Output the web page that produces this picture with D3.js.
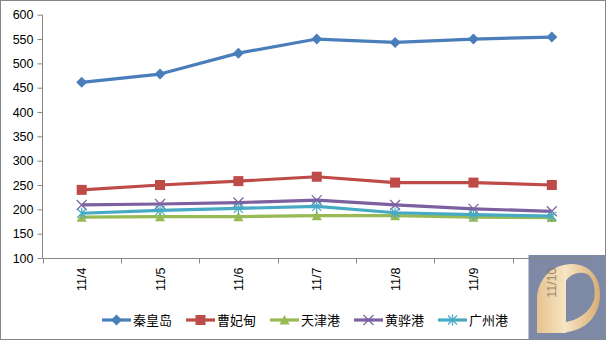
<!DOCTYPE html>
<html><head><meta charset="utf-8">
<script src="https://cdn.jsdelivr.net/npm/d3@7"></script>
<style>body{margin:0;background:#fff}svg{display:block}</style>
</head><body>
<svg id="c" width="607" height="341"></svg>
<script>
const categories = ["11/4","11/5","11/6","11/7","11/8","11/9","11/10"];
const seriesNames = ["秦皇岛","曹妃甸","天津港","黄骅港","广州港"];
const qinhuangdao = [461, 478, 521, 550, 543, 550, 554];
const caofeidian  = [240, 250, 258, 267, 255, 255, 250];
const tianjin     = [184, 185, 185, 187, 187, 184, 183];
const huanghua    = [209, 211, 214, 219, 209, 201, 196];
const guangzhou   = [192, 198, 202, 206, 193, 189, 186];
const yTicks = [100,150,200,250,300,350,400,450,500,550,600];

const seriesValues = [qinhuangdao, caofeidian, tianjin, huanghua, guangzhou];
const colors = ["#4A7EBB","#BE4B48","#98B954","#7D60A0","#46AAC5"];
const markers = ["diamond","square","triangle","x","star"];

const svg = d3.select("#c");
svg.append("rect").attr("x",0.5).attr("y",0.5).attr("width",605).attr("height",339)
  .attr("fill","#fff").attr("stroke","#868686");

const x = d3.scaleBand().domain(categories).range([42.5, 591]);
const y = d3.scaleLinear().domain([100,600]).range([258, 14.7]);

// Watermark (behind the chart)
const wm = svg.append("g");
wm.append("rect").attr("x",528.5).attr("y",255).attr("width",77).attr("height",84.5).attr("fill","#7E89A5");
const grad = svg.append("defs").append("linearGradient").attr("id","g1").attr("x1","0").attr("x2","1");
grad.append("stop").attr("offset","0").attr("stop-color","#E6C391");
grad.append("stop").attr("offset","0.45").attr("stop-color","#F7E4C2");
grad.append("stop").attr("offset","1").attr("stop-color","#D9AD74");
wm.append("path").attr("fill","url(#g1)").attr("fill-rule","evenodd")
  .attr("d","M537,333 L537,300 C537,278 553,264 572,264 C590,264 600,278 600,294 C600,314 588,329 568,332 L565,333 Z M566,322 L566,281 C570,274 580,271 587,274 C594,278 596,290 594,300 C590,312 578,320 566,322 Z");

// Y axis
const ya = svg.append("g").attr("transform","translate(42.5,0)")
  .call(d3.axisLeft(y).tickValues(yTicks).tickSize(5).tickPadding(4).tickFormat(d3.format("d")));
ya.select(".domain").attr("stroke","#868686").attr("d","M0,"+y(600)+"V"+y(100));
ya.selectAll(".tick line").attr("stroke","#868686");
ya.selectAll("text").attr("fill","#000").style("font-family","Liberation Sans, Arial").style("font-size","12.5px");

// X axis
const xa = svg.append("g").attr("transform","translate(0,258.5)");
xa.append("line").attr("x1",42.5).attr("x2",591).attr("stroke","#868686");
const bounds = categories.map(c=>x(c)).concat([x.range()[1]]);
xa.selectAll("line.t").data(bounds).join("line").attr("class","t")
  .attr("x1",d=>Math.round(d)+0.5).attr("x2",d=>Math.round(d)+0.5).attr("y1",0).attr("y2",5).attr("stroke","#868686");
xa.selectAll("text").data(categories).join("text")
  .attr("transform",d=>"translate("+(x(d)+x.bandwidth()/2+4.5)+",9) rotate(-90)")
  .attr("text-anchor","end")
  .style("font-family","Liberation Sans, Arial").style("font-size","12.5px")
  .attr("fill",d=>d==="11/10"?"#8a7a66":"#000")
  .attr("opacity",d=>d==="11/10"?0.85:1)
  .text(d=>d);

function drawMarker(g, type, color, cx, cy) {
  if (type==="diamond") g.append("path").attr("d",`M${cx},${cy-5.5}L${cx+5.5},${cy}L${cx},${cy+5.5}L${cx-5.5},${cy}Z`).attr("fill",color);
  else if (type==="square") g.append("rect").attr("x",cx-5).attr("y",cy-5).attr("width",10).attr("height",10).attr("fill",color);
  else if (type==="triangle") g.append("path").attr("d",`M${cx},${cy-5}L${cx+5},${cy+4.5}L${cx-5},${cy+4.5}Z`).attr("fill",color);
  else if (type==="x") g.append("path").attr("d",`M${cx-5},${cy-5}L${cx+5},${cy+5}M${cx-5},${cy+5}L${cx+5},${cy-5}`).attr("stroke",color).attr("stroke-width",1.2);
  else if (type==="star") g.append("path").attr("d",`M${cx-4.5},${cy-4.5}L${cx+4.5},${cy+4.5}M${cx-4.5},${cy+4.5}L${cx+4.5},${cy-4.5}M${cx},${cy-5.5}L${cx},${cy+5.5}`).attr("stroke",color).attr("stroke-width",1.2);
}

const line = d3.line().x((d,i)=>x(categories[i])+x.bandwidth()/2).y(d=>y(d));
seriesValues.forEach((vals,si)=>{
  const g = svg.append("g");
  g.append("path").attr("d",line(vals)).attr("fill","none").attr("stroke",colors[si]).attr("stroke-width",3.2).attr("stroke-linejoin","round");
  vals.forEach((v,i)=>drawMarker(g, markers[si], colors[si], x(categories[i])+x.bandwidth()/2, y(v)));
});

// Legend
const legX = [102, 186, 270, 354, 438];
const lg = svg.append("g");
seriesNames.forEach((n,i)=>{
  const g = lg.append("g");
  g.append("line").attr("x1",legX[i]).attr("x2",legX[i]+29).attr("y1",320).attr("y2",320).attr("stroke",colors[i]).attr("stroke-width",3.2);
  drawMarker(g, markers[i], colors[i], legX[i]+14.5, 320);
  g.append("text").attr("x",legX[i]+31).attr("y",325).style("font-family","Noto Sans CJK SC").style("font-size","13px").attr("fill","#000").text(n);
});
</script>
</body></html>
